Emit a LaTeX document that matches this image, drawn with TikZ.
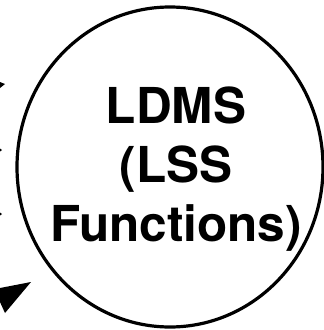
\documentclass[tikz,border=0pt]{standalone}
\usepackage{fontspec}
\setmainfont{TeX Gyre Heros}
\usetikzlibrary{shapes.geometric}
\begin{document}
\begin{tikzpicture}[x=1pt,y=-1pt,
  outline/.style={draw=black, line width=3.2pt, ellipse, inner sep=0pt,
    minimum width=306pt, minimum height=320pt},
  title/.style={font=\bfseries\fontsize{49.5}{59}\selectfont, align=center, inner sep=0pt},
  tip/.style={fill=black, draw=none}]
  \useasboundingbox (0,0) rectangle (324,330);
  % the process bubble and its caption
  \node[outline] (bubble) at (170,167) {};
  \node[title] (caption) at (176,169) {LDMS\\(LSS\\Functions)};
  % arrowheads of incoming flows at the left border
  \coordinate (inA) at (31,282);
  \fill[tip] (inA) -- (0,288) -- (0,302) -- (5,313) -- cycle;
  \fill[tip] (5,84) -- (0,82) -- (0,88) -- cycle;
  \fill[tip] (2,150) -- (0,148.5) -- (0,151.5) -- cycle;
  \fill[tip] (2,214) -- (0,212.5) -- (0,215.5) -- cycle;
\end{tikzpicture}
\end{document}
